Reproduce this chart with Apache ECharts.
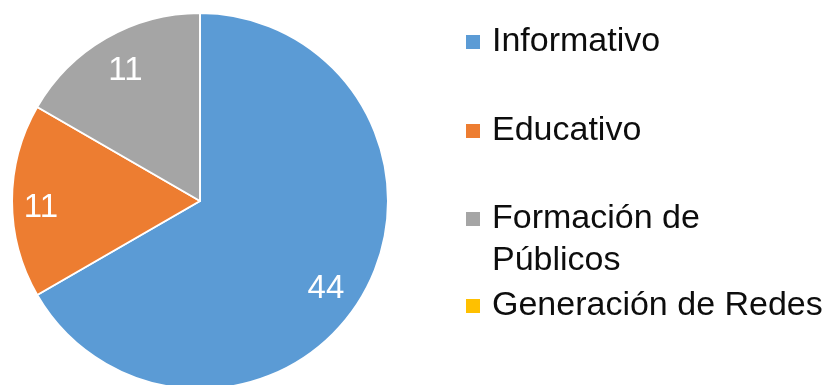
<!DOCTYPE html>
<html>
<head>
<meta charset="utf-8">
<style>
  html, body { margin: 0; padding: 0; background: #ffffff; }
  #chart { width: 833px; height: 385px; }
</style>
<script src="https://cdn.jsdelivr.net/npm/echarts@6/dist/echarts.min.js"></script>
</head>
<body>
<div id="chart"></div>
<script>
// Categories and counts per category
const categories = ['Informativo', 'Educativo', 'Formación de Públicos', 'Generación de Redes'];
const legendLabels = ['Informativo', 'Educativo', 'Formación de\nPúblicos', 'Generación de Redes'];
const values = [44, 11, 11, 0];
const colors = ['#5B9BD5', '#ED7D31', '#A5A5A5', '#FFC000'];

const pieData = categories.map((name, i) => ({ name: name, value: values[i] }));

const chart = echarts.init(document.getElementById('chart'), null, { renderer: 'canvas' });

const FONT = '"Liberation Sans", Arial, sans-serif';
const center = [200, 201];
const R = 188;

// small nudges for the value labels inside each slice
const labelNudge = [[-10, 9], [-2, 7], [4, 6], [0, 0]];

// one legend block per category so each sits at its own vertical slot
const legendTops = [21, 110, 156, 285];
const legends = categories.map((name, i) => ({
  data: [name],
  orient: 'vertical',
  left: 464,
  top: legendTops[i],
  padding: 0,
  itemWidth: 16,
  itemHeight: 16,
  icon: 'rect',
  formatter: () => (i === 2 ? '\n' : '') + legendLabels[i],
  textStyle: {
    fontFamily: FONT,
    fontSize: 34,
    lineHeight: 42,
    color: '#0d0d0d',
    padding: [0, 0, 0, 6]
  },
  selectedMode: false
}));

chart.setOption({
  animation: false,
  color: colors,
  legend: legends,
  series: [
    {
      type: 'pie',
      center: center,
      radius: [0, R],
      startAngle: 90,
      clockwise: true,
      data: pieData,
      itemStyle: { borderColor: '#ffffff', borderWidth: 2 },
      label: { show: false },
      labelLine: { show: false },
      emphasis: { disabled: true }
    },
    {
      // transparent ring that only carries the value labels
      type: 'pie',
      center: center,
      radius: [120, R],
      startAngle: 90,
      clockwise: true,
      silent: true,
      data: pieData,
      itemStyle: { color: 'rgba(0,0,0,0)', borderWidth: 0 },
      label: {
        show: true,
        position: 'inside',
        formatter: p => (p.value ? String(p.value) : ''),
        color: '#ffffff',
        fontFamily: FONT,
        fontSize: 33
      },
      labelLayout: p => ({ dx: labelNudge[p.dataIndex][0], dy: labelNudge[p.dataIndex][1] }),
      labelLine: { show: false },
      emphasis: { disabled: true }
    }
  ]
});
</script>
</body>
</html>
